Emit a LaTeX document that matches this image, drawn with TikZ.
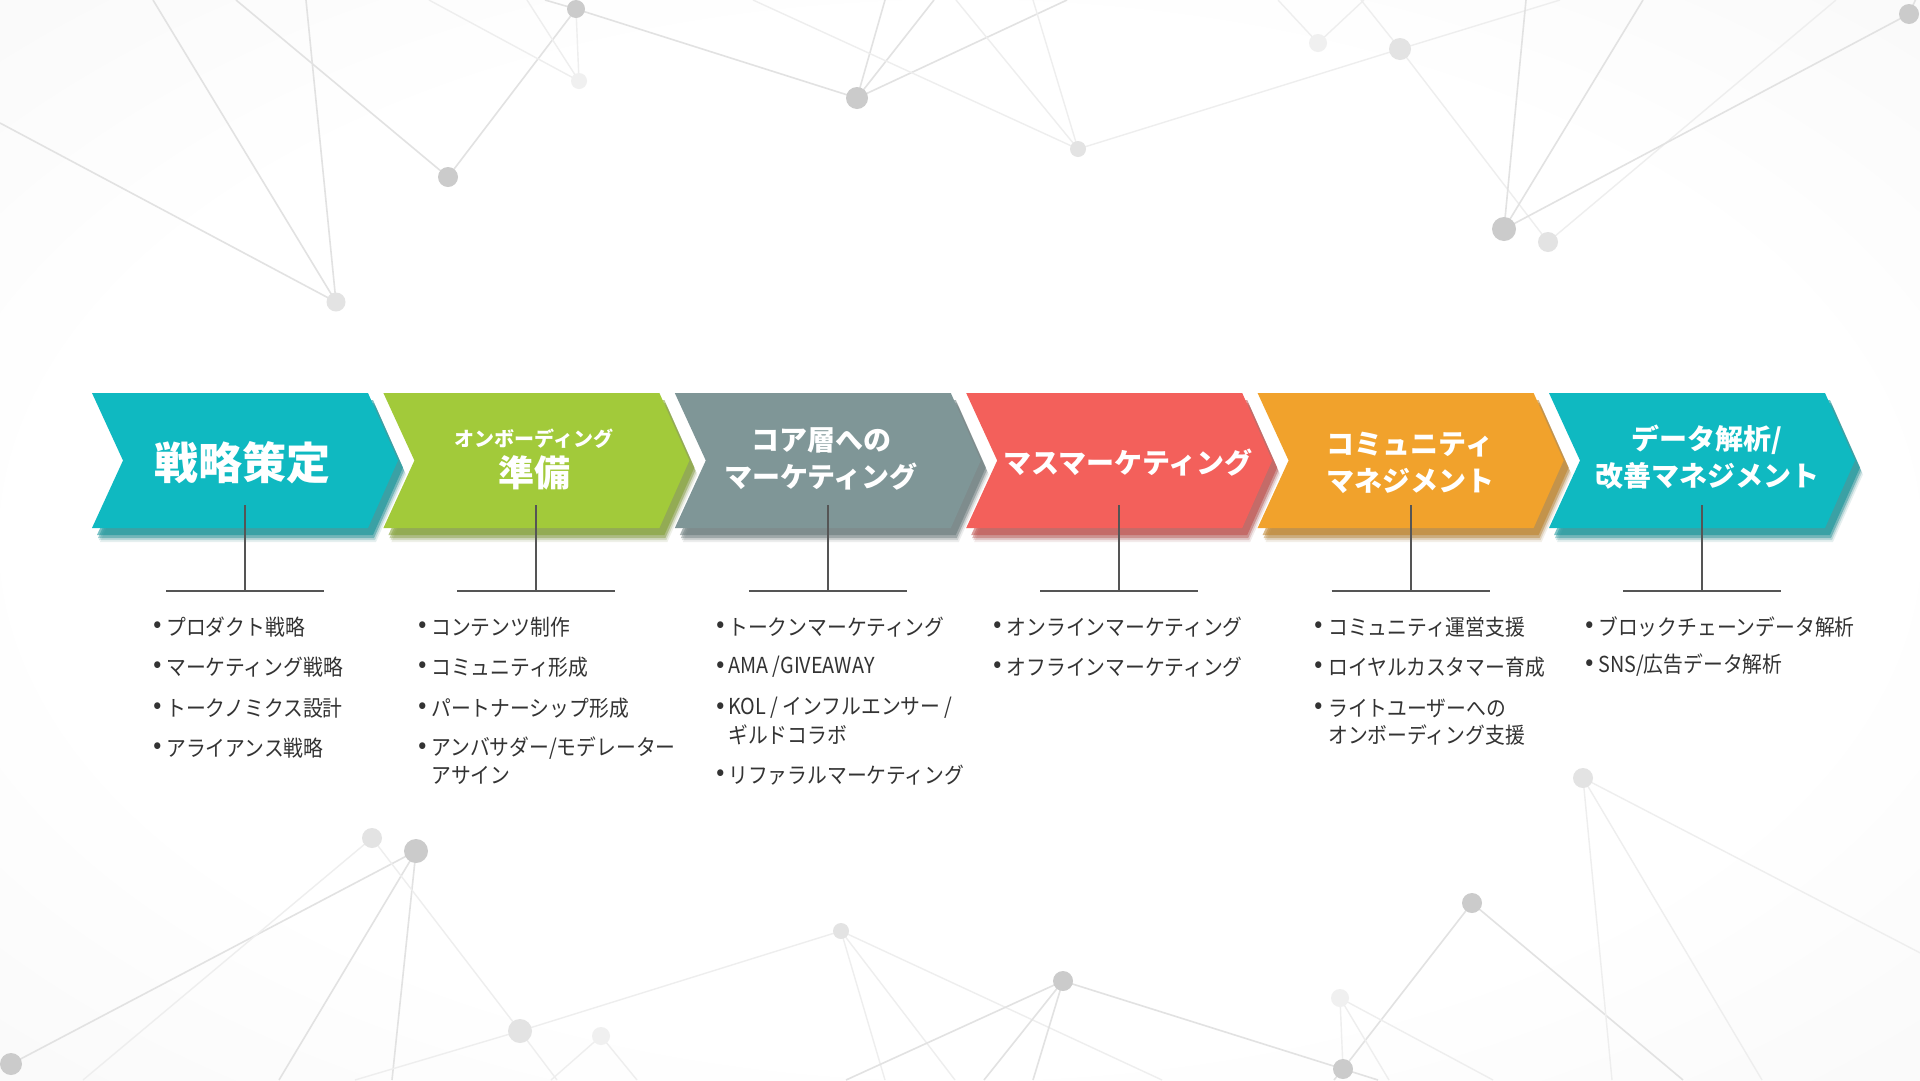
\documentclass[tikz,border=0pt]{standalone}
\usepackage{fontspec}
\newfontfamily\jpfont{Noto Sans CJK JP}
\newfontfamily\listfont[FakeStretch=0.9]{Noto Sans CJK JP}
\definecolor{cteal}{HTML}{0FB9C1}
\definecolor{cgreen}{HTML}{A2CA3A}
\definecolor{cgray}{HTML}{7F9697}
\definecolor{cred}{HTML}{F3605B}
\definecolor{corange}{HTML}{F1A22C}
\definecolor{netdark}{HTML}{CBCBCB}
\definecolor{netlight}{HTML}{E3E3E3}
\definecolor{netfaint}{HTML}{F0F0F0}
\definecolor{netline}{HTML}{E2E2E2}
\definecolor{netfline}{HTML}{EEEEEE}
\definecolor{stemcol}{HTML}{555555}
\definecolor{listtxt}{HTML}{333333}
\pgfdeclareradialshading{vign}{\pgfpoint{0bp}{0bp}}{color(0bp)=(white);color(24bp)=(white);color(40bp)=(black!3);color(50bp)=(black!5);color(72bp)=(black!8)}
\tikzset{
  netln/.style={draw=netline, line width=1.6},
  netfl/.style={draw=netfline, line width=1.4},
  title/.style={text=white, inner sep=0, align=center},
  itemtxt/.style={font=\listfont\fontsize{22}{28}\selectfont, text=listtxt, anchor=west, inner sep=0},
  bul/.style={font=\jpfont\fontsize{25}{25}\selectfont, text=listtxt, inner sep=0},
  stemln/.style={draw=stemcol, line width=2}
}
\begin{document}
\begin{tikzpicture}[x=1pt,y=-1pt]
\path[use as bounding box] (0,0) rectangle (1920,1080);
\shade[shading=vign] (0,0) rectangle (1920,1080);

% ---- background network ----
\coordinate (A) at (576,9);   \coordinate (B) at (579,81);
\coordinate (C) at (448,177); \coordinate (D) at (336,302);
\coordinate (E) at (857,98);  \coordinate (F) at (1318,43);
\coordinate (G) at (1400,49); \coordinate (H) at (1078,149);
\coordinate (I) at (1504,229);\coordinate (J) at (1548,242);
\coordinate (K) at (1909,14); \coordinate (L) at (372,838);
\coordinate (M) at (416,851); \coordinate (N) at (11,1064);
\coordinate (O) at (520,1031);\coordinate (P) at (601,1036);
\coordinate (Q) at (841,931); \coordinate (R) at (1583,778);
\coordinate (S) at (1472,903);\coordinate (T) at (1063,981);
\coordinate (U) at (1340,998);\coordinate (V) at (1343,1069);
% edge ends
\foreach \n/\x/\y in {e1/153/0,e2/306/0,e3/0/123,e4/236/0,e5/545/0,e6/527/0,e7/429/0,e8/885/0,e9/934/0,e10/1067/0,
  e11/753/0,e12/956/0,e13/1033/0,e14/1560/0,e15/1278/0,e16/1364/0,e17/1361/0,e18/1526/0,e19/1643/0,e20/1836/0,e21/1920/-10,
  f1/83/1080,f2/279/1080,f3/392/1080,f4/557/1080,f5/355/1080,f6/551/1080,f7/637/1080,f8/885/1080,f9/955/1080,f10/1162/1080,
  f11/846/1080,f12/984/1080,f13/1033/1080,f14/1378/1080,f15/1683/1080,f16/1334/1080,f17/1493/1080,f18/1389/1080,
  f19/1930/958,f20/1612/1080,f21/1762/1080}
  \coordinate (\n) at (\x,\y);

\draw[netln] (e1) -- (D) (e2) -- (D) (e3) -- (D) (e4) -- (C) -- (A) (e5) -- (A) -- (E);
\draw[netfl] (e6) -- (B) -- (A) (e7) -- (B);
\draw[netln] (e8) -- (E) -- (e9) (E) -- (e10);
\draw[netfl] (e11) -- (H) (e12) -- (H) -- (e13) (H) -- (G) -- (e14);
\draw[netfl] (e15) -- (F) -- (e16) (e17) -- (G) -- (J) -- (e20);
\draw[netln] (e18) -- (I) -- (e19) (I) -- (K) -- (e21);
\draw[netln] (M) -- (N) (M) -- (f2) (M) -- (f3);
\draw[netfl] (L) -- (f1) (L) -- (O) -- (f4) (O) -- (Q) (O) -- (f5) (P) -- (f6) (P) -- (f7);
\draw[netfl] (Q) -- (f8) (Q) -- (f9) (Q) -- (f10);
\draw[netln] (T) -- (f11) (T) -- (f12) (T) -- (f13) (T) -- (V) -- (f14) (S) -- (V) -- (f16) (S) -- (f15);
\draw[netfl] (U) -- (V) (U) -- (f17) (U) -- (f18) (R) -- (f19) (R) -- (f20) (R) -- (f21);

\fill[netdark] (A) circle (9);  \fill[netfaint] (B) circle (8);
\fill[netdark] (C) circle (10); \fill[netlight] (D) circle (9.5);
\fill[netdark] (E) circle (11); \fill[netfaint] (F) circle (9);
\fill[netlight] (G) circle (11);\fill[netlight] (H) circle (8);
\fill[netdark] (I) circle (12); \fill[netlight] (J) circle (10);
\fill[netdark] (K) circle (10); \fill[netlight] (L) circle (10);
\fill[netdark] (M) circle (12); \fill[netdark] (N) circle (11);
\fill[netlight] (O) circle (12);\fill[netfaint] (P) circle (9);
\fill[netlight] (Q) circle (8); \fill[netlight] (R) circle (10);
\fill[netdark] (S) circle (10); \fill[netdark] (T) circle (10);
\fill[netfaint] (U) circle (9); \fill[netdark] (V) circle (10);

% ---- chevrons ----
\foreach \i/\c in {1/cteal,2/cgreen,3/cgray,4/cred,5/corange,6/cteal}{
  \pgfmathsetmacro\Lx{92+291.4*(\i-1)}
  \begin{scope}[shift={(\Lx,0)}]
    \foreach \dx/\dy/\op/\m in {8/14/0.1/55, 7/12/0.2/65, 6/10/0.4/72, 5/7/0.55/78}
      \fill[\c!\m!black, opacity=\op, shift={(\dx,\dy)}] (0,393) -- (276,393) -- (306,460.5) -- (276,528) -- (0,528) -- (31,460.5) -- cycle;
    \fill[\c] (0,393) -- (276,393) -- (306,460.5) -- (276,528) -- (0,528) -- (31,460.5) -- cycle;
    \coordinate (st\i) at (153,505);
    \coordinate (sb\i) at (153,591);
    \coordinate (sl\i) at (74,591);
    \coordinate (sr\i) at (232,591);
  \end{scope}
  \draw[stemln] (st\i) -- (sb\i);
  \draw[stemln] (sl\i) -- (sr\i);
}

% ---- titles ----
\node[title, font=\jpfont\bfseries\fontsize{44}{50}\selectfont] (t1) at (242,463) {戦略策定};
\node[title, font=\jpfont\bfseries\fontsize{20}{24}\selectfont] (t2a) at (534,439) {オンボーディング};
\node[title, font=\jpfont\bfseries\fontsize{36}{40}\selectfont] (t2b) at (534,473) {準備};
\node[title, font=\jpfont\bfseries\fontsize{28}{37}\selectfont] (t3) at (821,458.5) {コア層への\\マーケティング};
\node[title, font=\jpfont\bfseries\fontsize{28}{37}\selectfont] (t4) at (1128,463) {マスマーケティング};
\node[title, font=\jpfont\bfseries\fontsize{28}{37}\selectfont] (t5) at (1410,463) {コミュニティ\\マネジメント};
\node[title, font=\jpfont\bfseries\fontsize{28}{37}\selectfont] (t6) at (1707,457.5) {データ解析/\\改善マネジメント};

% ---- lists ----
% column 1
\node[bul] (b11) at (157.5,627) {•}; \node[itemtxt] (i11) at (166,627) {プロダクト戦略};
\node[bul] (b12) at (157.5,667) {•}; \node[itemtxt] (i12) at (166,667) {マーケティング戦略};
\node[bul] (b13) at (157.5,708) {•}; \node[itemtxt] (i13) at (166,708) {トークノミクス設計};
\node[bul] (b14) at (157.5,748) {•}; \node[itemtxt] (i14) at (166,748) {アライアンス戦略};
% column 2
\node[bul] (b21) at (423,627) {•}; \node[itemtxt] (i21) at (431,627) {コンテンツ制作};
\node[bul] (b22) at (423,667) {•}; \node[itemtxt] (i22) at (431,667) {コミュニティ形成};
\node[bul] (b23) at (423,708) {•}; \node[itemtxt] (i23) at (431,708) {パートナーシップ形成};
\node[bul] (b24) at (423,748) {•}; \node[itemtxt] (i24) at (431,748) {アンバサダー/モデレーター};
\node[itemtxt] (i24b) at (431,775) {アサイン};
% column 3
\node[bul] (b31) at (721,627) {•}; \node[itemtxt] (i31) at (728,627) {トークンマーケティング};
\node[bul] (b32) at (721,667) {•}; \node[itemtxt] (i32) at (728,667) {AMA /GIVEAWAY};
\node[bul] (b33) at (721,708) {•}; \node[itemtxt] (i33) at (728,708) {KOL / インフルエンサー /};
\node[itemtxt] (i33b) at (728,735) {ギルドコラボ};
\node[bul] (b34) at (721,775) {•}; \node[itemtxt] (i34) at (728,775) {リファラルマーケティング};
% column 4
\node[bul] (b41) at (997.5,627) {•}; \node[itemtxt] (i41) at (1006.5,627) {オンラインマーケティング};
\node[bul] (b42) at (997.5,667) {•}; \node[itemtxt] (i42) at (1006.5,667) {オフラインマーケティング};
% column 5
\node[bul] (b51) at (1319,627) {•}; \node[itemtxt] (i51) at (1328,627) {コミュニティ運営支援};
\node[bul] (b52) at (1319,667) {•}; \node[itemtxt] (i52) at (1328,667) {ロイヤルカスタマー育成};
\node[bul] (b53) at (1319,708) {•}; \node[itemtxt] (i53) at (1328,708) {ライトユーザーへの};
\node[itemtxt] (i53b) at (1328,735) {オンボーディング支援};
% column 6
\node[bul] (b61) at (1590,627) {•}; \node[itemtxt] (i61) at (1598,627) {ブロックチェーンデータ解析};
\node[bul] (b62) at (1590,665) {•}; \node[itemtxt] (i62) at (1598,665) {SNS/広告データ解析};
\end{tikzpicture}
\end{document}
